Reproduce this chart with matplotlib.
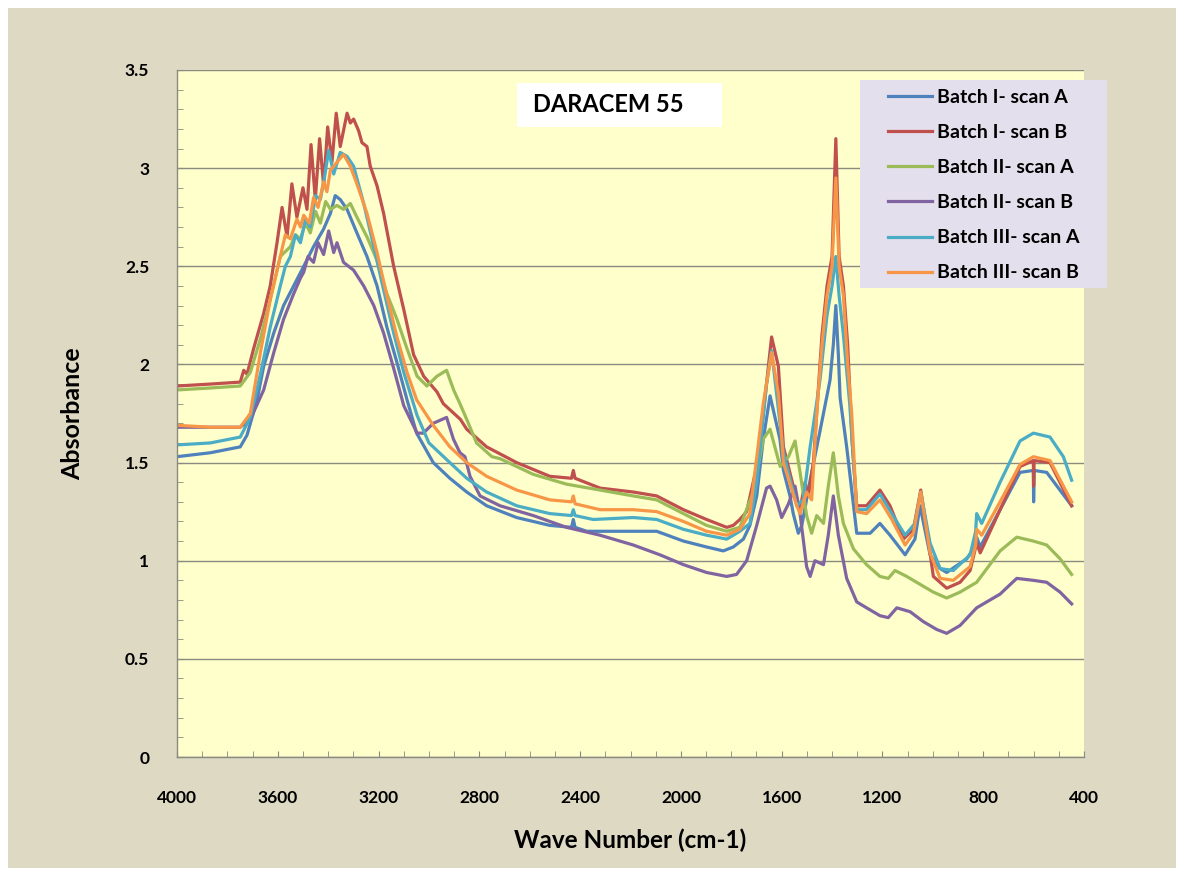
import numpy as np
import matplotlib
matplotlib.use("Agg")
import matplotlib.pyplot as plt
from matplotlib.patches import Rectangle
from matplotlib.ticker import MultipleLocator

# === Spectra (wave number cm-1, absorbance) ===
w_1a = [4000, 3868, 3749, 3722, 3682, 3656, 3616, 3577, 3537, 3497, 3458, 3418, 3391, 3372, 3352,
        3325, 3286, 3246, 3206, 3167, 3127, 3087, 3049, 2983, 2917, 2850, 2771, 2652, 2520, 2434,
        2427, 2420, 2374, 2255, 2096, 1990, 1898, 1832, 1792, 1752, 1726, 1699, 1673, 1646, 1607,
        1593, 1567, 1554, 1534, 1520, 1487, 1448, 1408, 1395, 1385, 1375, 1368, 1342, 1302, 1249,
        1210, 1170, 1110, 1071, 1051, 1011, 971, 945, 865, 830, 826, 812, 733, 654, 601, 600, 598,
        548, 449]
a_1a = [1.53, 1.55, 1.58, 1.64, 1.82, 1.99, 2.16, 2.30, 2.40, 2.50, 2.60, 2.69, 2.77, 2.86, 2.84,
        2.79, 2.67, 2.55, 2.40, 2.19, 2.01, 1.82, 1.65, 1.50, 1.42, 1.35, 1.28, 1.22, 1.18, 1.17,
        1.21, 1.17, 1.15, 1.15, 1.15, 1.10, 1.07, 1.05, 1.07, 1.11, 1.18, 1.33, 1.62, 1.84, 1.62,
        1.46, 1.33, 1.24, 1.14, 1.18, 1.41, 1.66, 1.92, 2.10, 2.30, 2.05, 1.83, 1.58, 1.14, 1.14,
        1.19, 1.13, 1.03, 1.11, 1.28, 1.03, 0.96, 0.94, 1.01, 1.08, 1.12, 1.07, 1.26, 1.45, 1.46, 1.30, 1.46,
        1.45, 1.28]

w_1b = [4000, 3868, 3749, 3735, 3722, 3696, 3656, 3630, 3603, 3583, 3563, 3544, 3524, 3500, 3484,
        3468, 3451, 3434, 3418, 3402, 3385, 3368, 3352, 3325, 3312, 3299, 3279, 3266, 3246, 3233,
        3206, 3180, 3140, 3100, 3061, 3021, 2968, 2943, 2875, 2850, 2771, 2652, 2520, 2434, 2427,
        2420, 2321, 2189, 2096, 1990, 1898, 1818, 1792, 1766, 1739, 1699, 1673, 1640, 1613, 1593,
        1554, 1527, 1507, 1494, 1474, 1461, 1440, 1420, 1400, 1385, 1372, 1355, 1338, 1320, 1302,
        1263, 1210, 1170, 1117, 1077, 1048, 1024, 998, 945, 892, 852, 826, 812, 733, 654, 601, 600,
        598, 535, 449]
a_1b = [1.89, 1.90, 1.91, 1.97, 1.95, 2.08, 2.26, 2.40, 2.62, 2.80, 2.65, 2.92, 2.75, 2.90, 2.79,
        3.12, 2.84, 3.15, 2.91, 3.21, 3.03, 3.28, 3.11, 3.28, 3.23, 3.25, 3.19, 3.13, 3.11, 3.01,
        2.91, 2.77, 2.50, 2.28, 2.05, 1.94, 1.86, 1.80, 1.72, 1.67, 1.58, 1.50, 1.43, 1.42, 1.46,
        1.42, 1.37, 1.35, 1.33, 1.26, 1.21, 1.17, 1.18, 1.21, 1.25, 1.48, 1.75, 2.14, 1.99, 1.58,
        1.38, 1.26, 1.40, 1.33, 1.50, 1.75, 2.15, 2.40, 2.55, 3.15, 2.55, 2.40, 2.10, 1.60, 1.28,
        1.28, 1.36, 1.28, 1.11, 1.16, 1.36, 1.16, 0.92, 0.86, 0.89, 0.95, 1.09, 1.04, 1.26, 1.48, 1.51, 1.38,
        1.51, 1.50, 1.28]

w_2a = [4000, 3868, 3749, 3709, 3669, 3630, 3590, 3550, 3530, 3510, 3490, 3471, 3450, 3431, 3410,
        3391, 3365, 3339, 3312, 3286, 3246, 3206, 3167, 3127, 3087, 3047, 3008, 2968, 2930, 2902,
        2877, 2850, 2811, 2750, 2718, 2586, 2454, 2321, 2189, 2096, 1990, 1898, 1818, 1766, 1713,
        1673, 1646, 1606, 1573, 1547, 1527, 1501, 1481, 1461, 1434, 1415, 1395, 1375, 1355, 1315,
        1263, 1210, 1177, 1150, 1104, 1051, 998, 945, 892, 826, 733, 667, 601, 548, 495, 449]
a_2a = [1.87, 1.88, 1.89, 1.96, 2.13, 2.33, 2.55, 2.60, 2.66, 2.64, 2.72, 2.67, 2.78, 2.72, 2.83,
        2.79, 2.81, 2.79, 2.82, 2.75, 2.65, 2.53, 2.36, 2.23, 2.08, 1.94, 1.89, 1.94, 1.97, 1.87,
        1.80, 1.72, 1.60, 1.53, 1.52, 1.44, 1.39, 1.36, 1.33, 1.31, 1.24, 1.18, 1.15, 1.17, 1.35,
        1.62, 1.67, 1.48, 1.53, 1.61, 1.45, 1.23, 1.14, 1.23, 1.19, 1.38, 1.55, 1.33, 1.19, 1.06,
        0.98, 0.92, 0.91, 0.95, 0.92, 0.88, 0.84, 0.81, 0.84, 0.89, 1.05, 1.12, 1.10, 1.08, 1.01, 0.93]

w_2b = [4000, 3868, 3749, 3709, 3656, 3616, 3577, 3537, 3510, 3497, 3480, 3458, 3440, 3418, 3398,
        3378, 3365, 3339, 3299, 3259, 3219, 3180, 3140, 3100, 3047, 3022, 2983, 2930, 2903, 2877,
        2857, 2837, 2797, 2718, 2586, 2454, 2321, 2189, 2083, 1990, 1898, 1818, 1779, 1739, 1699,
        1660, 1646, 1620, 1600, 1573, 1547, 1527, 1501, 1487, 1468, 1434, 1415, 1395, 1375, 1342,
        1302, 1263, 1210, 1177, 1143, 1090, 1038, 985, 945, 892, 826, 733, 667, 601, 548, 495, 449]
a_2b = [1.68, 1.68, 1.68, 1.72, 1.87, 2.06, 2.23, 2.36, 2.44, 2.47, 2.55, 2.52, 2.62, 2.56, 2.68,
        2.57, 2.62, 2.52, 2.48, 2.40, 2.30, 2.16, 1.98, 1.79, 1.65, 1.65, 1.70, 1.73, 1.62, 1.55,
        1.53, 1.43, 1.33, 1.28, 1.23, 1.17, 1.13, 1.08, 1.03, 0.98, 0.94, 0.92, 0.93, 1.00, 1.18,
        1.37, 1.38, 1.31, 1.22, 1.29, 1.38, 1.24, 0.97, 0.92, 1.00, 0.98, 1.13, 1.33, 1.13, 0.91,
        0.79, 0.76, 0.72, 0.71, 0.76, 0.74, 0.69, 0.65, 0.63, 0.67, 0.76, 0.83, 0.91, 0.90, 0.89, 0.84, 0.78]

w_3a = [4000, 3868, 3749, 3709, 3669, 3630, 3590, 3570, 3550, 3530, 3510, 3490, 3471, 3450, 3431,
        3415, 3398, 3378, 3352, 3325, 3299, 3259, 3219, 3180, 3140, 3100, 3047, 3000, 2917, 2850,
        2771, 2652, 2520, 2434, 2427, 2420, 2348, 2189, 2096, 1990, 1898, 1818, 1766, 1726, 1699,
        1660, 1640, 1593, 1540, 1514, 1487, 1448, 1420, 1400, 1385, 1372, 1355, 1330, 1302, 1263,
        1210, 1163, 1110, 1071, 1048, 1011, 971, 919, 852, 830, 826, 806, 733, 654, 601, 535, 482, 449]
a_3a = [1.59, 1.60, 1.63, 1.73, 1.95, 2.19, 2.40, 2.50, 2.55, 2.66, 2.62, 2.74, 2.70, 2.86, 2.84,
        2.95, 3.09, 2.97, 3.08, 3.06, 3.01, 2.82, 2.60, 2.38, 2.16, 1.96, 1.74, 1.60, 1.50, 1.42,
        1.35, 1.28, 1.24, 1.23, 1.26, 1.23, 1.21, 1.22, 1.21, 1.16, 1.13, 1.11, 1.15, 1.19, 1.40,
        1.90, 2.07, 1.55, 1.28, 1.31, 1.58, 1.92, 2.25, 2.40, 2.55, 2.35, 2.15, 1.80, 1.26, 1.26,
        1.34, 1.24, 1.13, 1.19, 1.35, 1.09, 0.96, 0.95, 1.03, 1.15, 1.24, 1.19, 1.40, 1.61, 1.65, 1.63, 1.53, 1.41]

w_3b = [4000, 3868, 3749, 3709, 3669, 3630, 3590, 3570, 3550, 3524, 3510, 3497, 3475, 3458, 3440,
        3418, 3405, 3391, 3365, 3339, 3312, 3286, 3246, 3206, 3167, 3127, 3087, 3049, 2983, 2917,
        2850, 2771, 2652, 2520, 2434, 2427, 2420, 2321, 2189, 2096, 1990, 1898, 1818, 1766, 1726,
        1713, 1673, 1640, 1613, 1593, 1540, 1527, 1501, 1481, 1461, 1440, 1420, 1400, 1385, 1372,
        1355, 1338, 1322, 1302, 1263, 1210, 1163, 1110, 1077, 1048, 1011, 971, 919, 852, 830, 826,
        806, 733, 654, 601, 535, 449]
a_3b = [1.69, 1.68, 1.68, 1.75, 2.06, 2.33, 2.55, 2.66, 2.64, 2.74, 2.70, 2.76, 2.72, 2.85, 2.80,
        2.93, 2.88, 2.99, 3.03, 3.07, 3.01, 2.92, 2.77, 2.57, 2.35, 2.14, 1.96, 1.82, 1.69, 1.58,
        1.50, 1.43, 1.36, 1.31, 1.30, 1.33, 1.29, 1.26, 1.26, 1.25, 1.20, 1.15, 1.13, 1.16, 1.24,
        1.38, 1.80, 2.06, 1.85, 1.50, 1.28, 1.24, 1.35, 1.31, 1.75, 2.10, 2.35, 2.50, 2.95, 2.50,
        2.35, 2.00, 1.75, 1.25, 1.24, 1.31, 1.21, 1.08, 1.14, 1.35, 1.04, 0.91, 0.90, 0.97, 1.08, 1.16,
        1.13, 1.30, 1.49, 1.53, 1.51, 1.30]

labels = ["Batch I- scan A", "Batch I- scan B", "Batch II- scan A",
          "Batch II- scan B", "Batch III- scan A", "Batch III- scan B"]
colors = ["#4F81BD", "#C0504D", "#9BBB59", "#8064A2", "#4BACC6", "#F79646"]
series = [(w_1a, a_1a), (w_1b, a_1b), (w_2a, a_2a), (w_2b, a_2b), (w_3a, a_3a), (w_3b, a_3b)]

# === Figure ===
W, H = 1184, 875
fig = plt.figure(figsize=(W / 100, H / 100), dpi=100, facecolor="white")
fig.patches.append(Rectangle((8 / W, 7 / H), (1176 - 8) / W, (868 - 8) / H,
                             transform=fig.transFigure, facecolor="#DDD9C3",
                             edgecolor="none", zorder=-10))

ax = fig.add_axes([177 / W, 1 - 757 / H, (1084 - 177) / W, (757 - 70) / H])
ax.set_facecolor("#FFFFCC")

for (w, a), lab, col in zip(series, labels, colors):
    ax.plot(w, a, color=col, linewidth=2.3, label=lab, solid_joinstyle="round")

ax.set_xlim(4000, 400)
ax.set_ylim(0, 3.5)
ax.xaxis.set_major_locator(MultipleLocator(400))
ax.xaxis.set_minor_locator(MultipleLocator(100))
ax.yaxis.set_major_locator(MultipleLocator(0.5))
ax.yaxis.set_minor_locator(MultipleLocator(0.1))
ax.yaxis.set_major_formatter(plt.FuncFormatter(lambda v, p: "%g" % v))

ax.grid(axis="y", which="major", color="#8A8A80", linewidth=1)
ax.set_axisbelow(True)
for s in ["top", "right"]:
    ax.spines[s].set_visible(False)
for s in ["left", "bottom"]:
    ax.spines[s].set_color("#8A8A80")
    ax.spines[s].set_linewidth(1)

fnt = "Lato"
ax.tick_params(which="both", direction="in", length=4, color="#8A8A80")
ax.tick_params(axis="y", which="major", pad=20)
ax.tick_params(axis="x", which="major", pad=24)
for t in ax.get_xticklabels() + ax.get_yticklabels():
    t.set_fontfamily(fnt)
    t.set_fontweight("bold")
    t.set_fontsize(12.5)

ax.set_xlabel("Wave Number (cm-1)", fontfamily=fnt, fontweight="bold", fontsize=17.5, labelpad=16)
ax.set_ylabel("Absorbance", fontfamily=fnt, fontweight="bold", fontsize=18, labelpad=29)

# title box
fig.patches.append(Rectangle((517 / W, 1 - 127 / H), 205 / W, 44 / H,
                             transform=fig.transFigure, facecolor="white",
                             edgecolor="none", zorder=3))
fig.text(533 / W, 1 - 105 / H, "DARACEM 55", fontfamily=fnt, fontweight="bold",
         fontsize=17, va="center", ha="left", zorder=4)

# legend box
fig.patches.append(Rectangle((860 / W, 1 - 288 / H), 247 / W, 208 / H,
                             transform=fig.transFigure, facecolor="#E4DFEC",
                             edgecolor="none", zorder=3))
leg = fig.legend(loc="upper left", bbox_to_anchor=(888 / W, 1 - 89 / H),
                 prop={"family": fnt, "weight": "bold", "size": 14},
                 frameon=False, handlelength=2.25, handletextpad=0.26,
                 labelspacing=0.93, borderpad=0, borderaxespad=0)
leg.set_zorder(5)

fig.savefig("out.png", dpi=100, facecolor="white")
